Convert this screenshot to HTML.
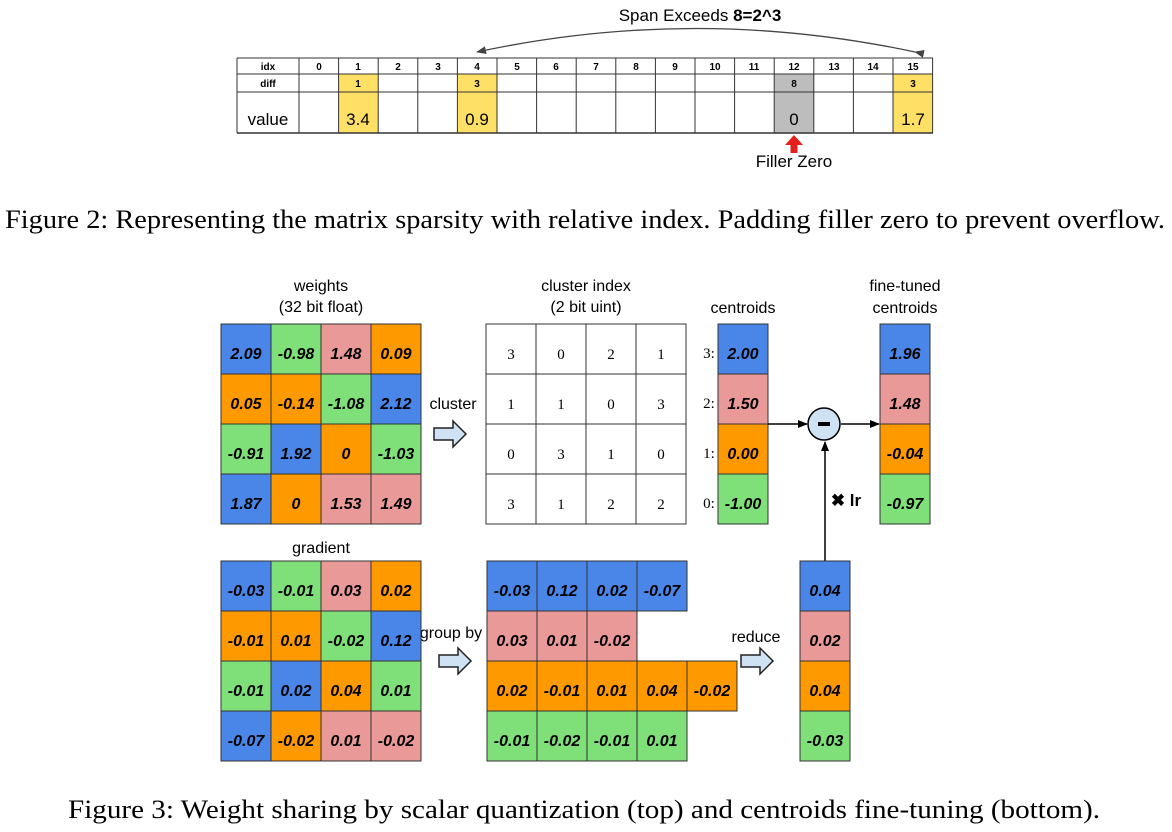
<!DOCTYPE html>
<html><head><meta charset="utf-8"><style>
html,body{margin:0;padding:0;background:#fff;}
svg{display:block;}
.s{font-family:"Liberation Sans",sans-serif;}
.n{font-family:"Liberation Sans",sans-serif;font-weight:bold;font-style:italic;font-size:16px;text-anchor:middle;}
.t{font-family:"Liberation Serif",serif;font-size:15px;text-anchor:middle;}
.c{font-family:"Liberation Serif",serif;font-size:26px;}
.h{font-family:"Liberation Sans",sans-serif;font-weight:bold;font-size:10px;text-anchor:middle;}
</style></head><body>
<svg width="1172" height="832" viewBox="0 0 1172 832" xmlns="http://www.w3.org/2000/svg">
<defs>
<marker id="ah" markerWidth="10" markerHeight="10" refX="9" refY="5" orient="auto" markerUnits="userSpaceOnUse"><path d="M0,1 L10,5 L0,9 Z" fill="#000"/></marker>
<marker id="ah2" markerWidth="10" markerHeight="10" refX="9" refY="5" orient="auto" markerUnits="userSpaceOnUse"><path d="M0,1 L10,5 L0,9 Z" fill="#444"/></marker>
</defs>
<!-- Figure 2 -->
<text x="700" y="21" class="s" font-size="17" text-anchor="middle">Span Exceeds <tspan font-weight="bold">8=2^3</tspan></text>
<path d="M915,52 Q695,5 477,52" fill="none" stroke="#444" stroke-width="1.3" marker-start="url(#ah2)" marker-end="url(#ah2)"/>
<rect x="339" y="74" width="39.6" height="59" fill="#ffe066"/>
<rect x="457.8" y="74" width="39.6" height="59" fill="#ffe066"/>
<rect x="774.6" y="74" width="39.6" height="59" fill="#bdbdbd"/>
<rect x="893.4" y="74" width="39.6" height="59" fill="#ffe066"/>
<g stroke="#333" stroke-width="1">
<line x1="237" y1="58" x2="933" y2="58"/><line x1="237" y1="74" x2="933" y2="74"/><line x1="237" y1="92" x2="933" y2="92"/><line x1="237" y1="133" x2="933" y2="133" stroke-width="1.6"/>
<line x1="237" y1="58" x2="237" y2="133"/>
<line x1="299" y1="58" x2="299" y2="133"/><line x1="338.6" y1="58" x2="338.6" y2="133"/><line x1="378.2" y1="58" x2="378.2" y2="133"/><line x1="417.8" y1="58" x2="417.8" y2="133"/><line x1="457.4" y1="58" x2="457.4" y2="133"/><line x1="497" y1="58" x2="497" y2="133"/><line x1="536.6" y1="58" x2="536.6" y2="133"/><line x1="576.2" y1="58" x2="576.2" y2="133"/><line x1="615.8" y1="58" x2="615.8" y2="133"/><line x1="655.4" y1="58" x2="655.4" y2="133"/><line x1="695" y1="58" x2="695" y2="133"/><line x1="734.6" y1="58" x2="734.6" y2="133"/><line x1="774.2" y1="58" x2="774.2" y2="133"/><line x1="813.8" y1="58" x2="813.8" y2="133"/><line x1="853.4" y1="58" x2="853.4" y2="133"/><line x1="893" y1="58" x2="893" y2="133"/><line x1="932.6" y1="58" x2="932.6" y2="133"/>
</g>
<g class="h">
<text x="268" y="70">idx</text><text x="268" y="87">diff</text>
<text x="319" y="70">0</text><text x="358" y="70">1</text><text x="398" y="70">2</text><text x="438" y="70">3</text><text x="477" y="70">4</text><text x="517" y="70">5</text><text x="556" y="70">6</text><text x="596" y="70">7</text><text x="636" y="70">8</text><text x="675" y="70">9</text><text x="715" y="70">10</text><text x="754" y="70">11</text><text x="794" y="70">12</text><text x="834" y="70">13</text><text x="873" y="70">14</text><text x="913" y="70">15</text>
<text x="358" y="87">1</text><text x="477" y="87">3</text><text x="794" y="87">8</text><text x="913" y="87">3</text>
</g>
<g class="s" font-size="17" text-anchor="middle">
<text x="268" y="125">value</text><text x="358" y="125">3.4</text><text x="477" y="125">0.9</text><text x="794" y="125">0</text><text x="913" y="125">1.7</text>
<text x="794" y="167">Filler Zero</text>
</g>
<path d="M794,135 L803,145 L797.5,145 L797.5,153 L790.5,153 L790.5,145 L785,145 Z" fill="#e3201b"/>
<text x="5" y="228" class="c" textLength="1160" lengthAdjust="spacingAndGlyphs">Figure 2: Representing the matrix sparsity with relative index. Padding filler zero to prevent overflow.</text>

<!-- Figure 3 -->
<g class="s" font-size="16" text-anchor="middle">
<text x="321" y="291">weights</text><text x="321" y="312">(32 bit float)</text>
<text x="586" y="291">cluster index</text><text x="586" y="312">(2 bit uint)</text>
<text x="743" y="313">centroids</text>
<text x="905" y="291">fine-tuned</text><text x="905" y="313">centroids</text>
<text x="321" y="553">gradient</text>
<text x="453" y="409">cluster</text>
<text x="451" y="638">group by</text>
<text x="756" y="642">reduce</text>
</g>
<!-- weights -->
<g stroke="#333" stroke-width="1">
<rect x="221" y="324" width="50" height="50" fill="#4a86e8"/><rect x="271" y="324" width="50" height="50" fill="#7fe07a"/><rect x="321" y="324" width="50" height="50" fill="#ea9999"/><rect x="371" y="324" width="50" height="50" fill="#ff9900"/>
<rect x="221" y="374" width="50" height="50" fill="#ff9900"/><rect x="271" y="374" width="50" height="50" fill="#ff9900"/><rect x="321" y="374" width="50" height="50" fill="#7fe07a"/><rect x="371" y="374" width="50" height="50" fill="#4a86e8"/>
<rect x="221" y="424" width="50" height="50" fill="#7fe07a"/><rect x="271" y="424" width="50" height="50" fill="#4a86e8"/><rect x="321" y="424" width="50" height="50" fill="#ff9900"/><rect x="371" y="424" width="50" height="50" fill="#7fe07a"/>
<rect x="221" y="474" width="50" height="50" fill="#4a86e8"/><rect x="271" y="474" width="50" height="50" fill="#ff9900"/><rect x="321" y="474" width="50" height="50" fill="#ea9999"/><rect x="371" y="474" width="50" height="50" fill="#ea9999"/>
</g>
<g class="n">
<text x="246" y="359">2.09</text><text x="296" y="359">-0.98</text><text x="346" y="359">1.48</text><text x="396" y="359">0.09</text>
<text x="246" y="409">0.05</text><text x="296" y="409">-0.14</text><text x="346" y="409">-1.08</text><text x="396" y="409">2.12</text>
<text x="246" y="459">-0.91</text><text x="296" y="459">1.92</text><text x="346" y="459">0</text><text x="396" y="459">-1.03</text>
<text x="246" y="509">1.87</text><text x="296" y="509">0</text><text x="346" y="509">1.53</text><text x="396" y="509">1.49</text>
</g>
<!-- cluster index -->
<g stroke="#333" stroke-width="1" fill="#fff">
<rect x="486" y="324" width="200" height="200"/>
<line x1="536" y1="324" x2="536" y2="524"/><line x1="586" y1="324" x2="586" y2="524"/><line x1="636" y1="324" x2="636" y2="524"/>
<line x1="486" y1="374" x2="686" y2="374"/><line x1="486" y1="424" x2="686" y2="424"/><line x1="486" y1="474" x2="686" y2="474"/>
</g>
<g class="t">
<text x="511" y="359">3</text><text x="561" y="359">0</text><text x="611" y="359">2</text><text x="661" y="359">1</text>
<text x="511" y="409">1</text><text x="561" y="409">1</text><text x="611" y="409">0</text><text x="661" y="409">3</text>
<text x="511" y="459">0</text><text x="561" y="459">3</text><text x="611" y="459">1</text><text x="661" y="459">0</text>
<text x="511" y="509">3</text><text x="561" y="509">1</text><text x="611" y="509">2</text><text x="661" y="509">2</text>
<text x="709" y="358">3:</text><text x="709" y="408">2:</text><text x="709" y="458">1:</text><text x="709" y="508">0:</text>
</g>
<!-- centroids -->
<g stroke="#333" stroke-width="1">
<rect x="718" y="324" width="50" height="50" fill="#4a86e8"/><rect x="718" y="374" width="50" height="50" fill="#ea9999"/><rect x="718" y="424" width="50" height="50" fill="#ff9900"/><rect x="718" y="474" width="50" height="50" fill="#7fe07a"/>
<rect x="880" y="324" width="50" height="50" fill="#4a86e8"/><rect x="880" y="374" width="50" height="50" fill="#ea9999"/><rect x="880" y="424" width="50" height="50" fill="#ff9900"/><rect x="880" y="474" width="50" height="50" fill="#7fe07a"/>
</g>
<g class="n">
<text x="743" y="359">2.00</text><text x="743" y="409">1.50</text><text x="743" y="459">0.00</text><text x="743" y="509">-1.00</text>
<text x="905" y="359">1.96</text><text x="905" y="409">1.48</text><text x="905" y="459">-0.04</text><text x="905" y="509">-0.97</text>
</g>
<line x1="768" y1="424" x2="807" y2="424" stroke="#000" stroke-width="1.5" marker-end="url(#ah)"/>
<line x1="841" y1="424" x2="879" y2="424" stroke="#000" stroke-width="1.5" marker-end="url(#ah)"/>
<line x1="825" y1="561" x2="825" y2="442" stroke="#000" stroke-width="1.5" marker-end="url(#ah)"/>
<circle cx="824" cy="424" r="16" fill="#cfe2f3" stroke="#000" stroke-width="1.5"/>
<rect x="818" y="422" width="12" height="4" fill="#000"/>
<text x="846" y="506" class="s" font-size="17" font-weight="bold" text-anchor="middle">✖ lr</text>
<!-- gradient -->
<g stroke="#333" stroke-width="1">
<rect x="221" y="561" width="50" height="50" fill="#4a86e8"/><rect x="271" y="561" width="50" height="50" fill="#7fe07a"/><rect x="321" y="561" width="50" height="50" fill="#ea9999"/><rect x="371" y="561" width="50" height="50" fill="#ff9900"/>
<rect x="221" y="611" width="50" height="50" fill="#ff9900"/><rect x="271" y="611" width="50" height="50" fill="#ff9900"/><rect x="321" y="611" width="50" height="50" fill="#7fe07a"/><rect x="371" y="611" width="50" height="50" fill="#4a86e8"/>
<rect x="221" y="661" width="50" height="50" fill="#7fe07a"/><rect x="271" y="661" width="50" height="50" fill="#4a86e8"/><rect x="321" y="661" width="50" height="50" fill="#ff9900"/><rect x="371" y="661" width="50" height="50" fill="#7fe07a"/>
<rect x="221" y="711" width="50" height="50" fill="#4a86e8"/><rect x="271" y="711" width="50" height="50" fill="#ff9900"/><rect x="321" y="711" width="50" height="50" fill="#ea9999"/><rect x="371" y="711" width="50" height="50" fill="#ea9999"/>
</g>
<g class="n">
<text x="246" y="596">-0.03</text><text x="296" y="596">-0.01</text><text x="346" y="596">0.03</text><text x="396" y="596">0.02</text>
<text x="246" y="646">-0.01</text><text x="296" y="646">0.01</text><text x="346" y="646">-0.02</text><text x="396" y="646">0.12</text>
<text x="246" y="696">-0.01</text><text x="296" y="696">0.02</text><text x="346" y="696">0.04</text><text x="396" y="696">0.01</text>
<text x="246" y="746">-0.07</text><text x="296" y="746">-0.02</text><text x="346" y="746">0.01</text><text x="396" y="746">-0.02</text>
</g>
<!-- grouped -->
<g stroke="#333" stroke-width="1">
<rect x="487" y="561" width="50" height="50" fill="#4a86e8"/><rect x="537" y="561" width="50" height="50" fill="#4a86e8"/><rect x="587" y="561" width="50" height="50" fill="#4a86e8"/><rect x="637" y="561" width="50" height="50" fill="#4a86e8"/>
<rect x="487" y="611" width="50" height="50" fill="#ea9999"/><rect x="537" y="611" width="50" height="50" fill="#ea9999"/><rect x="587" y="611" width="50" height="50" fill="#ea9999"/>
<rect x="487" y="661" width="50" height="50" fill="#ff9900"/><rect x="537" y="661" width="50" height="50" fill="#ff9900"/><rect x="587" y="661" width="50" height="50" fill="#ff9900"/><rect x="637" y="661" width="50" height="50" fill="#ff9900"/><rect x="687" y="661" width="50" height="50" fill="#ff9900"/>
<rect x="487" y="711" width="50" height="50" fill="#7fe07a"/><rect x="537" y="711" width="50" height="50" fill="#7fe07a"/><rect x="587" y="711" width="50" height="50" fill="#7fe07a"/><rect x="637" y="711" width="50" height="50" fill="#7fe07a"/>
<rect x="800" y="561" width="50" height="50" fill="#4a86e8"/><rect x="800" y="611" width="50" height="50" fill="#ea9999"/><rect x="800" y="661" width="50" height="50" fill="#ff9900"/><rect x="800" y="711" width="50" height="50" fill="#7fe07a"/>
</g>
<g class="n">
<text x="512" y="596">-0.03</text><text x="562" y="596">0.12</text><text x="612" y="596">0.02</text><text x="662" y="596">-0.07</text>
<text x="512" y="646">0.03</text><text x="562" y="646">0.01</text><text x="612" y="646">-0.02</text>
<text x="512" y="696">0.02</text><text x="562" y="696">-0.01</text><text x="612" y="696">0.01</text><text x="662" y="696">0.04</text><text x="712" y="696">-0.02</text>
<text x="512" y="746">-0.01</text><text x="562" y="746">-0.02</text><text x="612" y="746">-0.01</text><text x="662" y="746">0.01</text>
<text x="825" y="596">0.04</text><text x="825" y="646">0.02</text><text x="825" y="696">0.04</text><text x="825" y="746">-0.03</text>
</g>
<!-- block arrows -->
<g fill="#cfe2f3" stroke="#222" stroke-width="1.5">
<path d="M434,428 L453,428 L453,421 L466,434 L453,447 L453,440 L434,440 Z"/>
<path d="M439,655 L458,655 L458,648 L471,661 L458,674 L458,667 L439,667 Z"/>
<path d="M741,655 L760,655 L760,648 L773,661 L760,674 L760,667 L741,667 Z"/>
</g>
<text x="68" y="818" class="c" textLength="1032" lengthAdjust="spacingAndGlyphs">Figure 3: Weight sharing by scalar quantization (top) and centroids fine-tuning (bottom).</text>
</svg>
</body></html>
